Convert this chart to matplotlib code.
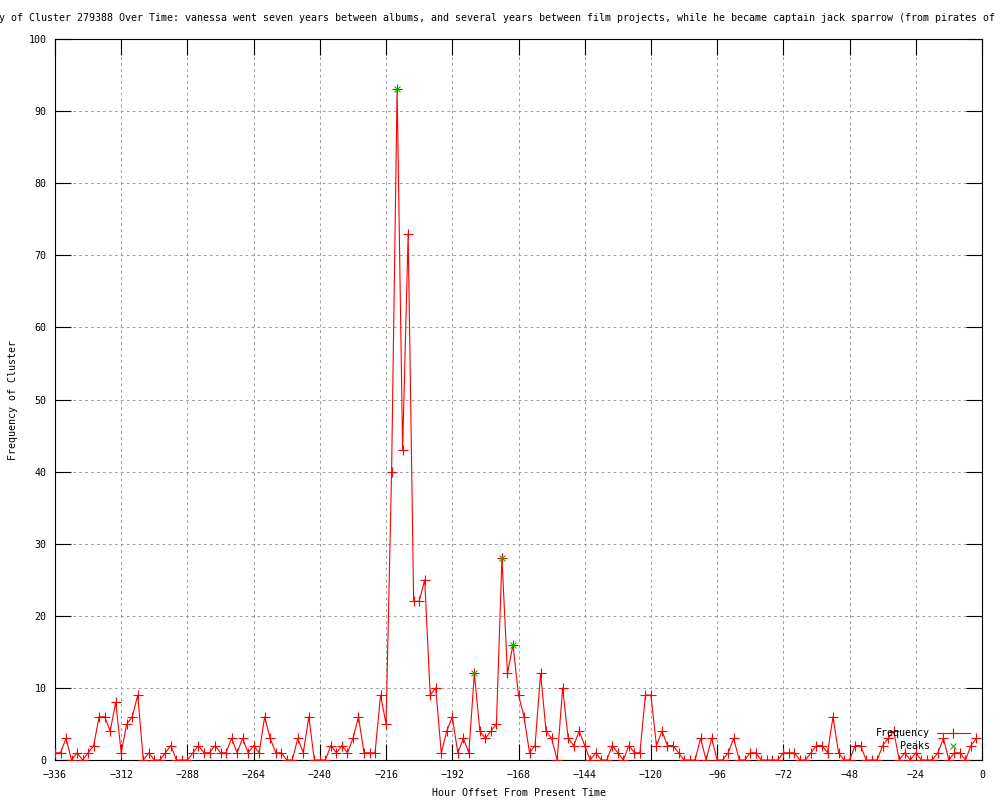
import numpy as np
import matplotlib
matplotlib.use('Agg')
import matplotlib.pyplot as plt
from matplotlib.lines import Line2D

# hours before present, every 2 hours
hours = np.arange(-336, 0, 2)
freq = [1, 1, 3, 0, 1, 0, 1, 2, 6, 6, 4, 8, 1, 5, 6, 9,        # -336 .. -306
        0, 1, 0, 0, 1, 2, 0, 0, 0, 1, 2, 1, 1, 2, 1, 1,        # -304 .. -274
        3, 1, 3, 1, 2, 1, 6, 3, 1, 1, 0, 0, 3, 1, 6, 0,        # -272 .. -242
        0, 0, 2, 1, 2, 1, 3, 6, 1, 1, 1, 9, 5, 40, 93, 43,     # -240 .. -210
        73, 22, 22, 25, 9, 10, 1, 4, 6, 1, 3, 1, 12, 4, 3, 4,  # -208 .. -178
        5, 28, 12, 16, 9, 6, 1, 2, 12, 4, 3, 0, 10, 3, 2, 4,   # -176 .. -146
        2, 0, 1, 0, 0, 2, 1, 0, 2, 1, 1, 9, 9, 2, 4, 2,        # -144 .. -114
        2, 1, 0, 0, 0, 3, 0, 3, 0, 0, 1, 3, 0, 0, 1, 1,        # -112 .. -82
        0, 0, 0, 0, 1, 1, 1, 0, 0, 1, 2, 2, 1, 6, 1, 0,        # -80 .. -50
        0, 2, 2, 0, 0, 0, 2, 3, 4, 0, 1, 0, 1, 0, 0, 0,        # -48 .. -18
        1, 3, 0, 1, 1, 0, 2, 3]                                # -16 .. -2

peak_hours = [-212, -184, -174, -170]
peak_vals = [93, 12, 28, 16]

title = ("Frequency of Cluster 279388 Over Time: vanessa went seven years between albums, "
         "and several years between film projects, while he became captain jack sparrow "
         "(from pirates of the caribbean)")

plt.rcParams['font.family'] = ['DejaVu Sans Mono']
plt.rcParams['font.size'] = 7.2

fig = plt.figure(figsize=(10, 8), dpi=100)
ax = fig.add_axes([0.055, 0.05, 0.927, 0.90125])

ax.plot(hours, freq, color='#ff0000', linewidth=0.8, marker='+',
        markersize=6.5, markeredgewidth=0.8, zorder=3)
ax.plot(peak_hours, peak_vals, linestyle='none', color='#00c000', marker='x',
        markersize=5, markeredgewidth=0.8, zorder=4)

ax.set_xlim(-336, 0)
ax.set_ylim(0, 100)
ax.set_xticks(np.arange(-336, 1, 24))
ax.set_yticks(np.arange(0, 101, 10))
ax.grid(True, linestyle=(0, (2.7, 3.0)), color='#a0a0a0', linewidth=0.75)
ax.tick_params(direction='in', length=11.5, width=0.8, top=True, right=True,
               colors='black')
ax.tick_params(axis='x', pad=7)
ax.tick_params(axis='y', pad=6)
for s in ax.spines.values():
    s.set_linewidth(0.8)

ax.set_xlabel('Hour Offset From Present Time', labelpad=6)
ax.set_ylabel('Frequency of Cluster', labelpad=8)

fig.text(0.518, 0.977, title, ha='center', va='center', fontsize=7.2)

# key, gnuplot style: right aligned labels with samples
ax.text(0.944, 0.0374, 'Frequency', transform=ax.transAxes, ha='right', va='center')
ax.text(0.944, 0.0194, 'Peaks', transform=ax.transAxes, ha='right', va='center')
ax.add_line(Line2D([0.951, 0.987], [0.0374, 0.0374], transform=ax.transAxes,
                   color='#ff0000', linewidth=0.8))
ax.add_line(Line2D([0.969], [0.0374], transform=ax.transAxes, color='#ff0000',
                   marker='+', markersize=6.5, markeredgewidth=0.8))
ax.add_line(Line2D([0.969], [0.0194], transform=ax.transAxes, color='#00c000',
                   marker='x', markersize=5, markeredgewidth=0.8, linestyle='none'))

fig.savefig('out.png', dpi=100)
